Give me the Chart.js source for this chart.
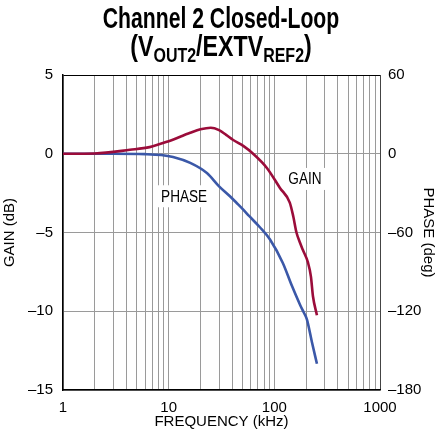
<!DOCTYPE html>
<html>
<head>
<meta charset="utf-8">
<script src="https://cdn.jsdelivr.net/npm/chart.js@4.4.1/dist/chart.umd.min.js"></script>
<style>
  html, body { margin: 0; padding: 0; background: #fff; }
  #wrap { position: relative; width: 442px; height: 444px; }
</style>
</head>
<body>
<div id="wrap"><canvas id="loopChart" width="442" height="444"></canvas></div>
<script>
var FONT = "'Liberation Sans', Arial, sans-serif";

// closed-loop response, frequency in kHz
var gainFreq = [1, 2, 4.3, 6.6, 10, 16, 20, 25, 30, 35, 40.5, 50.8, 63, 85, 113, 140, 151, 162, 175, 186, 208, 222, 232, 253];
var gainDb = [0, 0.02, 0.25, 0.42, 0.8, 1.33, 1.55, 1.65, 1.5, 1.2, 0.89, 0.5, 0.0, -0.9, -2.17, -3.1, -3.97, -5.0, -5.65, -6.1, -6.9, -7.8, -9.05, -10.25];
var phaseFreq = [1, 3, 6, 8.5, 11, 16, 23, 30, 38, 44, 50.8, 58, 73, 91, 120, 147, 175, 190, 203, 227, 253];
var phaseDeg = [0, 0, -0.3, -1, -2.5, -7, -14.7, -24.8, -32.4, -37.5, -42.6, -47.6, -56, -65.3, -83, -100.8, -115, -121, -126, -143.6, -160];

var freqLabels = [1, 10, 100, 1000];
var gainTicks = [-15, -10, -5, 0, 5];
var phaseTicks = [-180, -120, -60, 0, 60];

// one grid line per 1..9 step of each decade
var freqGrid = [];
for (var d = 1; d < 1000; d *= 10) {
  for (var k = 1; k < 10; k++) freqGrid.push(k * d);
}
freqGrid.push(1000);

function toPoints(xs, ys) {
  return xs.map(function (x, i) { return { x: x, y: ys[i] }; });
}

function dashMinus(v) {
  return String(v).replace('-', '\u2013');
}

// heading drawn narrow, second line carries subscripts
var titlePlugin = {
  id: 'loopTitle',
  afterDraw: function (chart) {
    var ctx = chart.ctx;
    ctx.save();
    ctx.fillStyle = '#000';
    ctx.textBaseline = 'alphabetic';
    ctx.translate(221, 0);

    ctx.save();
    ctx.scale(0.73, 1);
    ctx.font = 'bold 29px ' + FONT;
    ctx.textAlign = 'center';
    ctx.fillText('Channel 2 Closed-Loop', 0, 28);
    ctx.restore();

    var parts = [
      ['(V', false], ['OUT2', true], ['/EXTV', false], ['REF2', true], [')', false]
    ];
    ctx.scale(0.8, 1);
    var total = 0;
    parts.forEach(function (p) {
      ctx.font = (p[1] ? 'bold 20px ' : 'bold 29px ') + FONT;
      p.push(ctx.measureText(p[0]).width);
      total += p[2];
    });
    var x = -total / 2;
    ctx.textAlign = 'left';
    parts.forEach(function (p) {
      ctx.font = (p[1] ? 'bold 20px ' : 'bold 29px ') + FONT;
      ctx.fillText(p[0], x, p[1] ? 62 : 56);
      x += p[2];
    });
    ctx.restore();
  }
};

var curveLabels = [
  { text: 'PHASE', x: 14, y: -2.7 },
  { text: 'GAIN', x: 195, y: -1.6 }
];

var labelPlugin = {
  id: 'curveLabels',
  beforeDatasetsDraw: function (chart) {
    var ctx = chart.ctx;
    var xs = chart.scales.x, ys = chart.scales.y;
    ctx.save();
    ctx.font = '16px ' + FONT;
    ctx.textAlign = 'center';
    ctx.textBaseline = 'middle';
    curveLabels.forEach(function (l) {
      var px = xs.getPixelForValue(l.x), py = ys.getPixelForValue(l.y);
      var w = ctx.measureText(l.text).width * 0.85;
      ctx.fillStyle = '#fff';
      ctx.fillRect(px - w / 2 - 4, py - 11, w + 8, 22);
      ctx.fillStyle = '#000';
      ctx.save();
      ctx.translate(px, py + 1);
      ctx.scale(0.85, 1);
      ctx.fillText(l.text, 0, 0);
      ctx.restore();
    });
    ctx.restore();
  }
};

Chart.defaults.font.family = FONT;
Chart.defaults.font.size = 15;
Chart.defaults.color = '#000';

new Chart(document.getElementById('loopChart').getContext('2d'), {
  type: 'line',
  data: {
    datasets: [
      {
        label: 'GAIN',
        data: toPoints(gainFreq, gainDb),
        yAxisID: 'y',
        borderColor: '#9b0c3a',
        borderWidth: 2.6,
        pointRadius: 0,
        cubicInterpolationMode: 'monotone',
        fill: false
      },
      {
        label: 'PHASE',
        data: toPoints(phaseFreq, phaseDeg),
        yAxisID: 'y2',
        borderColor: '#3b58a8',
        borderWidth: 2.6,
        pointRadius: 0,
        cubicInterpolationMode: 'monotone',
        fill: false
      }
    ]
  },
  options: {
    responsive: false,
    animation: false,
    layout: { padding: { top: 75, left: 0, right: 0, bottom: 0 } },
    plugins: {
      legend: { display: false },
      tooltip: { enabled: false }
    },
    scales: {
      x: {
        type: 'logarithmic',
        min: 1,
        max: 1000,
        afterBuildTicks: function (axis) {
          axis.ticks = freqGrid.map(function (v) { return { value: v }; });
        },
        afterFit: function (axis) { axis.height = 54; },
        grid: {
          drawTicks: false,
          lineWidth: 1,
          color: function (c) { return c.tick && c.tick.value === 1000 ? '#444' : '#9a9a9a'; }
        },
        border: { color: '#000', width: 1.5 },
        ticks: {
          autoSkip: false,
          maxRotation: 0,
          padding: 9,
          callback: function (v) { return freqLabels.indexOf(v) >= 0 ? String(v) : ''; }
        },
        title: {
          display: true,
          text: 'FREQUENCY (kHz)',
          padding: { top: 0, bottom: 13 }
        }
      },
      y: {
        position: 'left',
        min: -15,
        max: 5,
        afterBuildTicks: function (axis) {
          axis.ticks = gainTicks.map(function (v) { return { value: v }; });
        },
        afterFit: function (axis) { axis.width = 63; },
        grid: {
          drawTicks: false,
          lineWidth: 1,
          color: function (c) { return c.tick && c.tick.value === 5 ? '#000' : '#9a9a9a'; }
        },
        border: { color: '#000', width: 1.5 },
        ticks: { padding: 10, callback: dashMinus },
        title: { display: true, text: 'GAIN (dB)', padding: { top: 1, bottom: 0 } }
      },
      y2: {
        position: 'right',
        min: -180,
        max: 60,
        afterBuildTicks: function (axis) {
          axis.ticks = phaseTicks.map(function (v) { return { value: v }; });
        },
        afterFit: function (axis) { axis.width = 62; },
        grid: { display: false, drawTicks: false },
        border: { display: false },
        ticks: { padding: 8, callback: dashMinus },
        title: { display: true, text: 'PHASE (deg)', padding: { top: 5, bottom: 0 } }
      }
    }
  },
  plugins: [labelPlugin, titlePlugin]
});
</script>
</body>
</html>
